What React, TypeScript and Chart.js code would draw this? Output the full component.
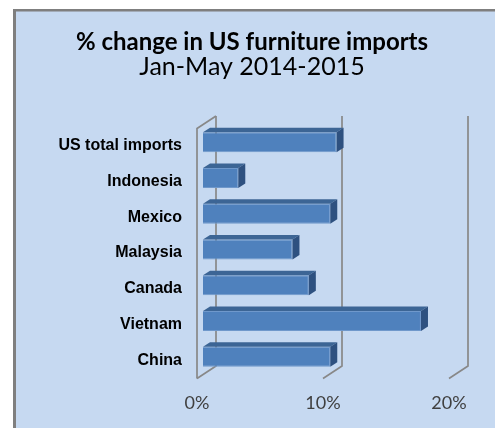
import React, { useEffect, useRef } from "react";
import { Chart, registerables } from "chart.js";

Chart.register(...registerables);

const titleText = "% change in US furniture imports";
const subtitleText = "Jan-May 2014-2015";
const categories = ["US total imports", "Indonesia", "Mexico", "Malaysia", "Canada", "Vietnam", "China"];
const pctChange = [10.6, 2.8, 10.1, 7.1, 8.4, 17.3, 10.1];
const xTickValues = [0, 10, 20];

// 3D projection offsets relative to the bar front plane
const FRONT = { dx: -6, dy: 4 };
const BACK = { dx: 13, dy: -8.5 };
const DEPTH = { dx: 7, dy: -4.5 };

const framePlugin = {
  id: "frame",
  beforeDraw(chart: any) {
    const ctx = chart.ctx;
    ctx.save();
    ctx.fillStyle = "#c6d9f1";
    ctx.fillRect(13, 9, chart.width - 13, chart.height - 9);
    ctx.fillStyle = "#7f7f7f";
    ctx.fillRect(13, 9, 3, chart.height - 9);
    ctx.fillRect(13, 9, chart.width - 13, 2.5);
    ctx.restore();
  },
};

const wallsPlugin = {
  id: "walls3d",
  beforeDatasetsDraw(chart: any) {
    const ctx = chart.ctx;
    const ca = chart.chartArea;
    const xs = chart.scales.x;
    ctx.save();
    ctx.strokeStyle = "#888888";
    ctx.lineWidth = 1.7;
    ctx.lineJoin = "miter";
    const x0 = xs.getPixelForValue(0);
    ctx.beginPath();
    ctx.moveTo(x0 + FRONT.dx, ca.bottom + FRONT.dy);
    ctx.lineTo(x0 + FRONT.dx, ca.top + FRONT.dy);
    ctx.lineTo(x0 + BACK.dx, ca.top + BACK.dy);
    ctx.stroke();
    xTickValues.forEach((v) => {
      const px = xs.getPixelForValue(v);
      ctx.beginPath();
      ctx.moveTo(px + FRONT.dx, ca.bottom + FRONT.dy);
      ctx.lineTo(px + BACK.dx, ca.bottom + BACK.dy);
      ctx.lineTo(px + BACK.dx, ca.top + BACK.dy);
      ctx.stroke();
    });
    ctx.restore();
  },
  afterDatasetsDraw(chart: any) {
    const ctx = chart.ctx;
    const meta = chart.getDatasetMeta(0);
    ctx.save();
    meta.data.forEach((bar: any) => {
      const { x, y, base, height } = bar.getProps(["x", "y", "base", "height"], true);
      const top = y - height / 2;
      const bot = y + height / 2;
      ctx.fillStyle = "#3c6595";
      ctx.beginPath();
      ctx.moveTo(base, top);
      ctx.lineTo(x, top);
      ctx.lineTo(x + DEPTH.dx, top + DEPTH.dy);
      ctx.lineTo(base + DEPTH.dx, top + DEPTH.dy);
      ctx.closePath();
      ctx.fill();
      ctx.fillStyle = "#2e5180";
      ctx.beginPath();
      ctx.moveTo(x, top);
      ctx.lineTo(x + DEPTH.dx, top + DEPTH.dy);
      ctx.lineTo(x + DEPTH.dx, bot + DEPTH.dy);
      ctx.lineTo(x, bot);
      ctx.closePath();
      ctx.fill();
    });
    ctx.restore();
  },
};

export default function App() {
  const canvasRef = useRef<HTMLCanvasElement | null>(null);

  useEffect(() => {
    const canvas = canvasRef.current;
    if (!canvas) return;
    const chart = new Chart(canvas, {
      type: "bar",
      data: {
        labels: categories,
        datasets: [
          {
            data: pctChange,
            backgroundColor: "#4f81bd",
            borderColor: "#6f98cb",
            borderWidth: 1,
            barPercentage: 0.56,
            categoryPercentage: 1,
          },
        ],
      },
      options: {
        indexAxis: "y",
        animation: false,
        responsive: false,
        devicePixelRatio: 1,
        layout: { padding: { left: 49, right: 40, top: 0, bottom: 0 } },
        plugins: {
          legend: { display: false },
          tooltip: { enabled: false },
          title: {
            display: true,
            text: titleText,
            color: "#000000",
            font: { family: "Lato", size: 24, weight: "bold", lineHeight: 1 },
            padding: { top: 30, bottom: 0 },
          },
          subtitle: {
            display: true,
            text: subtitleText,
            color: "#000000",
            font: { family: "Lato", size: 25, weight: "normal", lineHeight: 1 },
            padding: { top: 0.5, bottom: 45 },
          },
        },
        scales: {
          x: {
            type: "linear",
            min: 0,
            max: 20,
            afterFit(axis: any) {
              axis.height = 53.5;
            },
            afterBuildTicks(axis: any) {
              axis.ticks = xTickValues.map((v) => ({ value: v }));
            },
            grid: { display: false, drawTicks: false },
            border: { display: false },
            ticks: {
              callback: (v: any) => v + "%",
              color: "#404040",
              font: { family: "Lato", size: 18 },
              padding: 18,
              labelOffset: FRONT.dx,
              maxRotation: 0,
            },
          },
          y: {
            type: "category",
            afterFit(axis: any) {
              axis.width = 154;
            },
            grid: { display: false, drawTicks: false },
            border: { display: false },
            ticks: {
              color: "#000000",
              font: { family: "Liberation Sans", size: 16, weight: "bold" },
              padding: 21,
              labelOffset: 3.5,
            },
          },
        },
      },
      plugins: [framePlugin, wallsPlugin],
    });
    return () => chart.destroy();
  }, []);

  return (
    <div style={{ position: "fixed", left: 0, top: 0, width: 495, height: 428 }}>
      <canvas ref={canvasRef} width={495} height={428} style={{ display: "block" }} />
    </div>
  );
}
